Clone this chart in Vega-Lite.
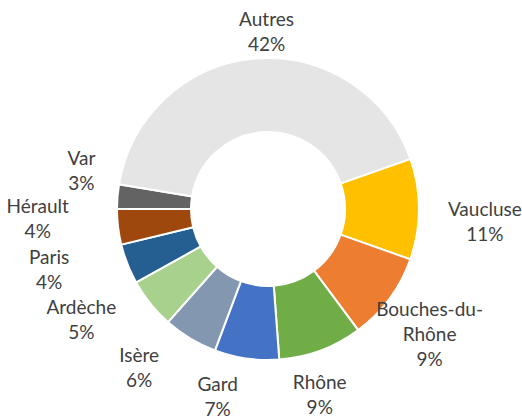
{
  "$schema": "https://vega.github.io/schema/vega-lite/v6.json",
  "width": 508,
  "height": 418,
  "autosize": "none",
  "padding": {"left": 14, "right": 0, "top": 0, "bottom": 0},
  "background": "#ffffff",
  "view": {"stroke": null},
  "data": {
    "values": [
      {"name": "Vaucluse", "value": 10.8, "order": 1, "label": "Vaucluse\n11%"},
      {"name": "Bouches-du-Rhône", "value": 9.4, "order": 2, "label": "Bouches-du-\nRhône\n9%"},
      {"name": "Rhône", "value": 9.0, "order": 3, "label": "Rhône\n9%"},
      {"name": "Gard", "value": 6.9, "order": 4, "label": "Gard\n7%"},
      {"name": "Isère", "value": 5.8, "order": 5, "label": "Isère\n6%"},
      {"name": "Ardèche", "value": 5.4, "order": 6, "label": "Ardèche\n5%"},
      {"name": "Paris", "value": 4.3, "order": 7, "label": "Paris\n4%"},
      {"name": "Hérault", "value": 3.8, "order": 8, "label": "Hérault\n4%"},
      {"name": "Var", "value": 2.6, "order": 9, "label": "Var\n3%"},
      {"name": "Autres", "value": 42.0, "order": 10, "label": "Autres\n42%"}
    ]
  },
  "layer": [
    {
      "mark": {"type": "arc", "outerRadius": 151, "innerRadius": 77, "stroke": "#ffffff", "strokeWidth": 2},
      "encoding": {
        "theta": {"field": "value", "type": "quantitative", "stack": true,
          "scale": {"domain": [0, 100], "range": [1.2322, 7.5154]}},
        "order": {"field": "order", "type": "quantitative"},
        "color": {"field": "name", "type": "nominal", "legend": null,
          "scale": {
            "domain": ["Vaucluse", "Bouches-du-Rhône", "Rhône", "Gard", "Isère", "Ardèche", "Paris", "Hérault", "Var", "Autres"],
            "range": ["#FFC000", "#ED7D31", "#70AD47", "#4472C4", "#8497B0", "#A9D18E", "#255E91", "#9E480E", "#636363", "#E5E5E5"]
          }}
      }
    },
    {
      "mark": {"type": "text", "font": "Lato", "fontSize": 19, "lineHeight": 25, "lineBreak": "\n",
        "color": "#404040", "align": "center", "baseline": "middle", "dx": -7,
        "dy": {"expr": "8 - (length(split(datum.label, '\\n')) - 1) * 12.5"},
        "radius": {"expr": "224*185/sqrt(pow(185*sin(1.2722 + PI*(datum.value_start+datum.value_end)/100),2)+pow(224*cos(1.2722 + PI*(datum.value_start+datum.value_end)/100),2)) - 38*exp(-pow(((datum.value_start+datum.value_end)/2 - 56.7)/1.5, 2))"}},
      "encoding": {
        "theta": {"field": "value", "type": "quantitative", "stack": true,
          "scale": {"domain": [0, 15, 40, 46, 50, 54, 57.5, 100],
                    "range": [1.28456, 2.14850, 3.88860, 4.27955, 4.49248, 4.73334, 5.02831, 7.56788]}},
        "order": {"field": "order", "type": "quantitative"},
        "text": {"field": "label", "type": "nominal"}
      }
    }
  ],
  "resolve": {"scale": {"theta": "independent"}}
}
